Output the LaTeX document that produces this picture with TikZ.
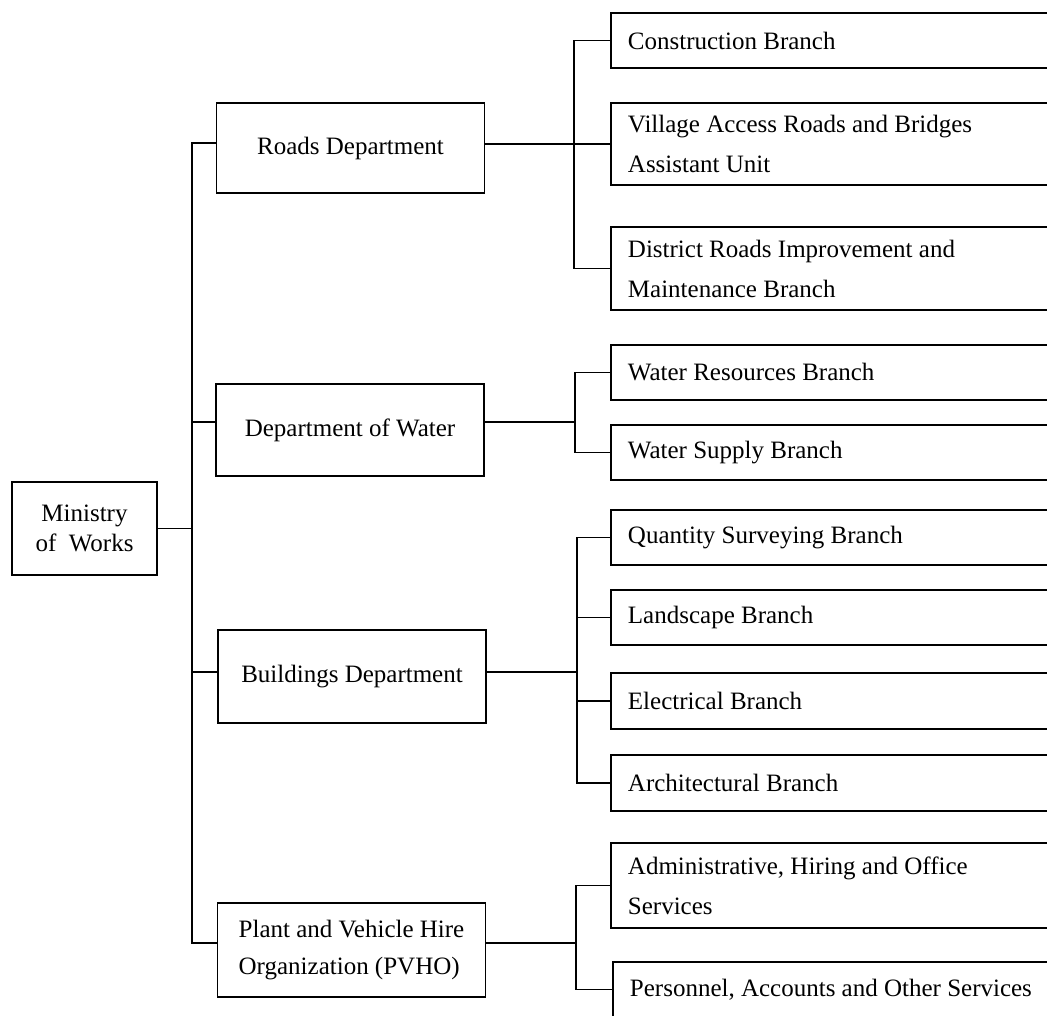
\documentclass[tikz,border=0pt]{standalone}
\usepackage{fontspec}
\setmainfont{Liberation Serif}
\begin{document}
\begin{tikzpicture}[x=1pt,y=-1pt,
  conn/.style={line width=1.9pt,line cap=rect},
  box/.style={draw,line width=1.9pt,inner sep=0pt},
  dept/.style={box,minimum width=268pt,font=\fontsize{25}{37}\selectfont,align=left},
  branch/.style={box,anchor=west,text width=440pt,inner xsep=17pt,align=flush left,
    font=\fontsize{25}{40}\selectfont},
]
\useasboundingbox (0,0) rectangle (1047,1015);
\fill[white] (0,0) rectangle (1047,1015);
\clip (0,0) rectangle (1047,1015);

% top
\node[box,minimum width=145pt,minimum height=93pt,align=center,
  font=\fontsize{25}{30}\selectfont] (min) at (84.5,528.5) {Ministry\\of\ \ Works};

% departments
\node[dept,minimum height=90pt] (roads) at (350.5,148) {Roads Department};
\node[dept,minimum height=92pt] (water) at (350,430) {Department of Water};
\node[dept,minimum height=93pt] (bld) at (352,676.5) {Buildings Department};
\node[dept,minimum height=94pt] (pvho) at (351.5,950) {Plant and Vehicle Hire\\Organization (PVHO)};

% branches
\node[branch,minimum height=55pt] (cons) at (610,40.5) {Construction Branch};
\node[branch,minimum height=82pt] (vill) at (610,144) {Village Access Roads and Bridges\\Assistant Unit};
\node[branch,minimum height=83pt] (dist) at (610,268.5) {District Roads Improvement and\\Maintenance Branch};
\node[branch,minimum height=55pt] (wres) at (610,372.5) {Water Resources Branch};
\node[branch,minimum height=55pt] (wsup) at (610,452.5) {Water Supply Branch};
\node[branch,minimum height=55pt] (qs) at (610,537.5) {Quantity Surveying Branch};
\node[branch,minimum height=55pt] (land) at (610,617.5) {Landscape Branch};
\node[branch,minimum height=56pt] (elec) at (610,701) {Electrical Branch};
\node[branch,minimum height=56pt] (arch) at (610,783) {Architectural Branch};
\node[branch,minimum height=85pt] (adm) at (610,885.5) {Administrative, Hiring and Office\\Services};
\node[branch,minimum height=55pt] (pers) at (612,989.5) {Personnel, Accounts and Other Services};

% bus coordinates
\coordinate (mv) at (192,530);
\coordinate (rb) at (574,144);
\coordinate (wb) at (575,422);
\coordinate (bb) at (577,672);
\coordinate (pb) at (576,943);

% ministry to departments
\draw[conn] (min.east) -- (min.east -| mv);
\draw[conn] ([yshift=5pt]roads.west) -| (mv) |- ([yshift=7pt]pvho.west);
\draw[conn] ([yshift=8pt]water.west) -- ([yshift=8pt]water.west -| mv);
\draw[conn] ([yshift=4.5pt]bld.west) -- ([yshift=4.5pt]bld.west -| mv);

% roads
\draw[conn] (roads.east |- vill.west) -- (vill.west);
\draw[conn] (cons.west) -| (rb) |- (dist.west);

% water
\draw[conn] ([yshift=8pt]water.east) -- (wb);
\draw[conn] (wres.west) -| (wb) |- (wsup.west);

% buildings
\draw[conn] ([yshift=4.5pt]bld.east) -- (bb);
\draw[conn] (qs.west) -| (bb) |- (arch.west);
\draw[conn] (land.west) -- (land.west -| bb);
\draw[conn] (elec.west) -- (elec.west -| bb);

% pvho
\draw[conn] ([yshift=7pt]pvho.east) -- (pb);
\draw[conn] (adm.west) -| (pb) |- (pers.west);
\end{tikzpicture}
\end{document}
